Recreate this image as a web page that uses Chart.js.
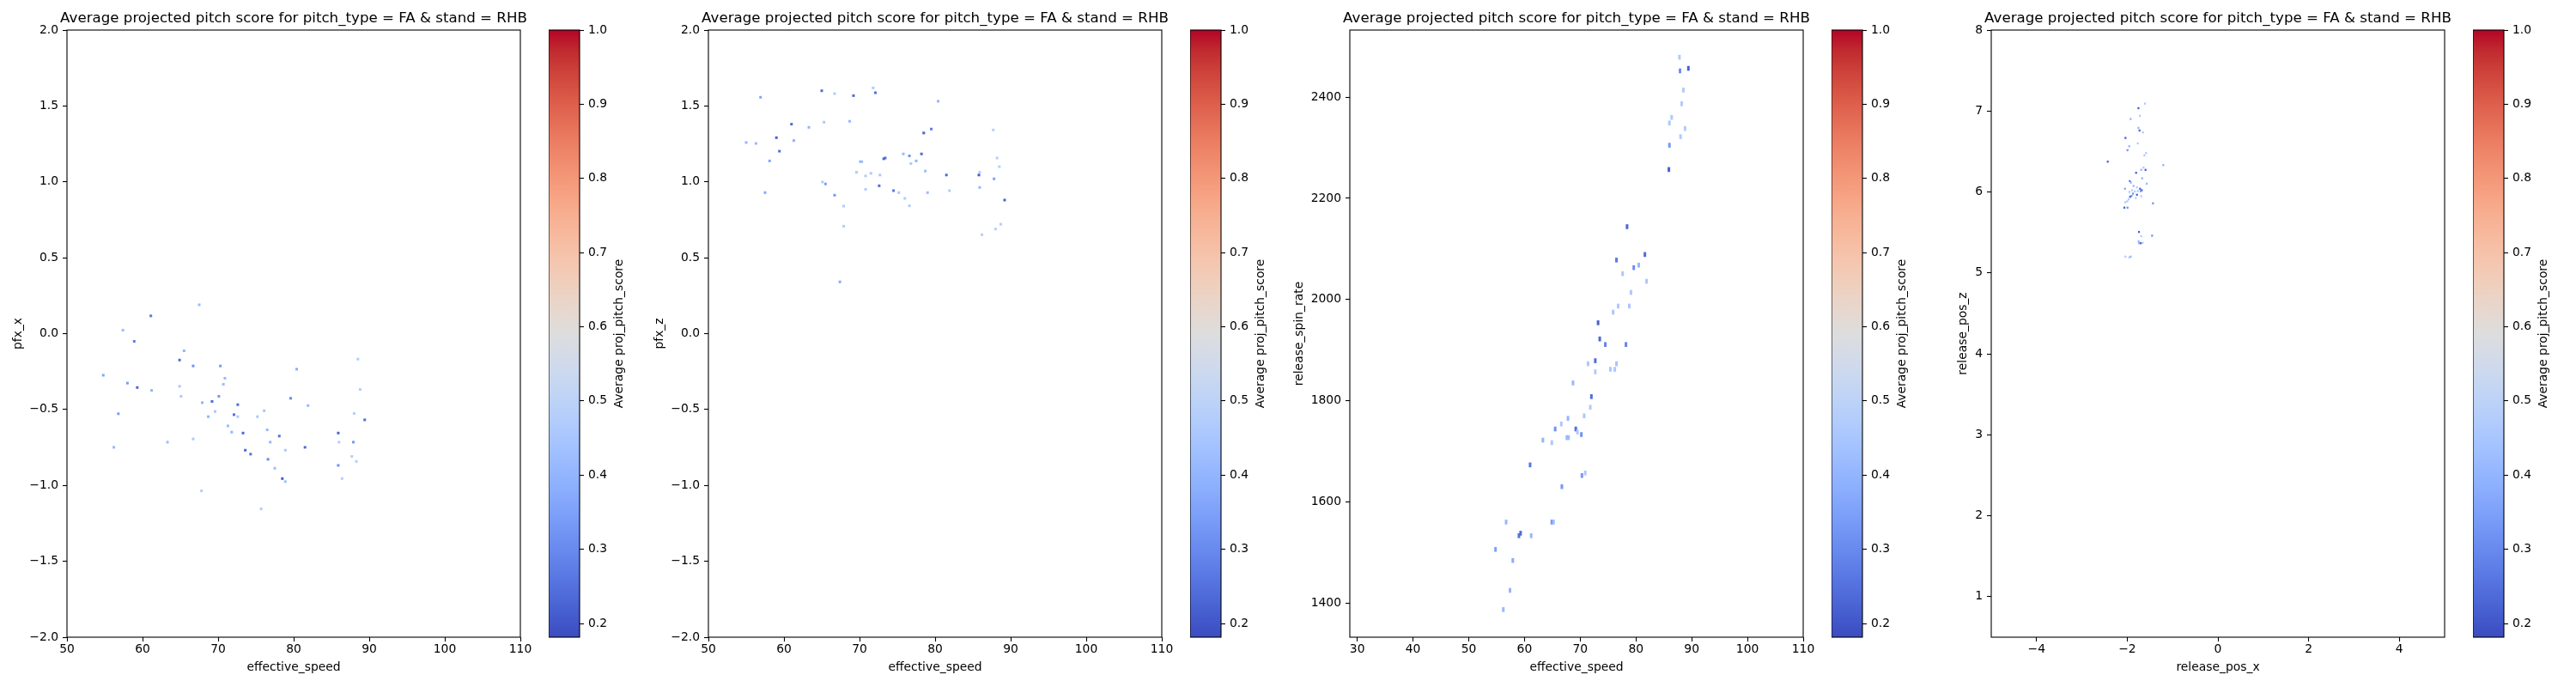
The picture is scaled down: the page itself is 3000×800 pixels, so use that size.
<!DOCTYPE html>
<html><head><meta charset="utf-8">
<script src="https://cdn.jsdelivr.net/npm/chart.js@4"></script>
<style>
html,body{margin:0;padding:0;background:#fff;width:3000px;height:800px;overflow:hidden;position:relative;}
canvas{position:absolute;top:0;}
</style></head><body>
<script>
// ---------- data ----------
const chartTitle = 'Average projected pitch score for pitch_type = FA & stand = RHB';
const colorbarLabel = 'Average proj_pitch_score';
const cbRange = [0.1815, 1.0];
const cbTicks = [0.2, 0.3, 0.4, 0.5, 0.6, 0.7, 0.8, 0.9, 1.0];

// panel 1: effective_speed vs pfx_x
const speedFx = [57.4,58.9,61.1,67.5,65.5,64.9,66.7,70.3,80.4,88.5,54.8,58.0,59.3,61.2,70.9,70.7,64.9,65.1,70.1,67.9,69.2,72.6,79.6,81.9,88.8,56.8,69.6,68.7,72.1,72.6,75.2,76.1,88.0,89.4,71.3,71.8,73.3,76.5,78.1,85.9,63.3,66.7,76.9,86.0,87.9,56.2,81.5,73.6,78.9,74.3,76.6,87.7,88.3,85.9,77.5,78.5,78.9,86.4,67.8,75.7];
const pfxX = [0.023,-0.051,0.117,0.19,-0.113,-0.174,-0.213,-0.213,-0.234,-0.168,-0.274,-0.326,-0.355,-0.374,-0.294,-0.334,-0.347,-0.413,-0.413,-0.455,-0.447,-0.468,-0.426,-0.474,-0.368,-0.528,-0.513,-0.547,-0.534,-0.547,-0.547,-0.508,-0.526,-0.568,-0.608,-0.649,-0.655,-0.634,-0.675,-0.655,-0.715,-0.694,-0.715,-0.715,-0.715,-0.749,-0.749,-0.768,-0.768,-0.794,-0.828,-0.809,-0.842,-0.868,-0.887,-0.955,-0.975,-0.955,-1.036,-1.155];
const scoreFx = [0.42,0.28,0.26,0.42,0.40,0.24,0.32,0.33,0.38,0.47,0.36,0.34,0.23,0.40,0.41,0.42,0.46,0.46,0.33,0.40,0.24,0.24,0.30,0.41,0.48,0.34,0.45,0.40,0.25,0.46,0.46,0.45,0.48,0.24,0.41,0.40,0.23,0.41,0.25,0.22,0.42,0.46,0.40,0.48,0.33,0.41,0.24,0.23,0.46,0.25,0.30,0.48,0.48,0.32,0.42,0.21,0.43,0.48,0.47,0.47];

// panel 2: effective_speed vs pfx_z
const speedFz = [56.9,65.0,66.7,69.2,71.8,72.1,80.4,61.0,63.3,65.3,68.7,87.7,59.0,61.3,55.0,56.3,59.4,58.1,79.5,78.5,75.8,76.6,78.2,77.5,76.8,73.2,73.4,70.1,70.3,69.6,70.8,71.5,72.7,78.7,81.5,85.8,85.9,88.2,88.5,87.8,85.9,89.2,65.1,65.5,57.5,66.7,70.8,72.6,74.5,75.2,76.0,76.6,79.0,81.9,67.9,67.9,88.7,88.0,86.2,67.4];
const pfxZ = [1.557,1.600,1.581,1.568,1.619,1.587,1.531,1.380,1.359,1.393,1.399,1.342,1.291,1.272,1.259,1.253,1.202,1.138,1.348,1.322,1.184,1.171,1.184,1.138,1.120,1.152,1.157,1.133,1.133,1.063,1.039,1.056,1.045,1.071,1.045,1.045,1.063,1.157,1.100,1.020,0.963,0.880,0.999,0.986,0.929,0.912,0.950,0.974,0.942,0.929,0.891,0.842,0.929,0.942,0.840,0.708,0.721,0.689,0.652,0.341];
const scoreFz = [0.36,0.24,0.47,0.24,0.47,0.25,0.40,0.24,0.40,0.46,0.41,0.48,0.22,0.39,0.40,0.41,0.24,0.36,0.27,0.22,0.41,0.32,0.23,0.40,0.46,0.23,0.24,0.41,0.42,0.46,0.47,0.46,0.46,0.42,0.24,0.21,0.48,0.48,0.48,0.35,0.40,0.22,0.46,0.35,0.37,0.33,0.47,0.24,0.26,0.46,0.47,0.47,0.42,0.47,0.47,0.47,0.48,0.48,0.48,0.37];

// panel 3: effective_speed vs release_spin_rate
const speedSpin = [87.8,87.9,89.4,88.5,88.2,86.4,86.0,88.8,88.0,86.0,85.9,78.4,76.5,81.6,79.6,80.5,77.6,81.9,79.1,76.8,78.8,75.9,73.2,73.5,74.5,78.2,72.7,71.4,76.5,72.7,75.4,76.2,68.7,72.0,71.8,70.7,67.8,66.6,65.5,69.2,69.5,70.2,63.3,64.9,67.6,67.9,61.0,70.9,70.3,66.7,56.7,64.9,65.2,59.3,59.0,61.2,54.8,57.9,57.4,56.2];
const spinRate = [2479,2452,2457,2414,2387,2360,2349,2338,2322,2305,2257,2144,2078,2089,2063,2068,2051,2036,2014,1987,1987,1975,1954,1922,1911,1911,1879,1873,1873,1857,1862,1862,1835,1808,1787,1770,1765,1754,1744,1744,1738,1733,1722,1717,1727,1727,1673,1657,1652,1630,1560,1560,1560,1538,1533,1533,1506,1484,1425,1387];
const scoreSpin = [0.47,0.31,0.22,0.47,0.47,0.47,0.46,0.47,0.47,0.33,0.22,0.23,0.27,0.24,0.31,0.41,0.46,0.46,0.46,0.46,0.46,0.46,0.22,0.23,0.29,0.29,0.24,0.46,0.45,0.47,0.46,0.46,0.41,0.24,0.47,0.46,0.40,0.46,0.32,0.24,0.46,0.32,0.40,0.46,0.41,0.42,0.26,0.46,0.33,0.33,0.41,0.32,0.42,0.24,0.25,0.41,0.35,0.38,0.40,0.41];

// panel 4: release_pos_x vs release_pos_z
const relPosX = [-1.610,-1.754,-1.723,-1.925,-1.754,-1.729,-1.653,-2.039,-1.767,-1.957,-1.995,-1.585,-1.622,-2.430,-1.206,-1.641,-1.692,-1.597,-1.805,-1.672,-1.571,-1.944,-1.919,-1.862,-1.786,-2.051,-1.717,-1.679,-1.704,-1.894,-1.831,-1.951,-1.767,-1.875,-1.786,-1.692,-1.906,-1.938,-1.811,-1.970,-2.001,-2.045,-1.433,-2.064,-1.995,-1.742,-1.692,-1.452,-1.748,-1.704,-1.660,-1.742,-2.039,-1.957,-1.925];
const relPosZ = [7.091,7.035,6.940,6.901,6.791,6.759,6.735,6.667,6.600,6.565,6.516,6.480,6.452,6.374,6.332,6.301,6.273,6.273,6.237,6.169,6.102,6.134,6.116,6.074,6.056,6.039,6.039,6.021,6.011,6.021,6.007,6.000,6.011,5.979,5.965,5.947,5.951,5.940,5.926,5.908,5.884,5.873,5.859,5.806,5.806,5.506,5.453,5.460,5.388,5.367,5.371,5.367,5.201,5.191,5.201];
const scoreRel = [0.47,0.22,0.47,0.40,0.40,0.22,0.47,0.22,0.47,0.40,0.32,0.47,0.47,0.22,0.40,0.47,0.40,0.22,0.22,0.40,0.40,0.27,0.40,0.40,0.47,0.36,0.22,0.22,0.32,0.47,0.47,0.47,0.47,0.32,0.22,0.47,0.32,0.22,0.47,0.47,0.47,0.47,0.32,0.22,0.32,0.22,0.47,0.32,0.40,0.22,0.47,0.40,0.47,0.47,0.40];

// tick values
const ticksSpeed = [50, 60, 70, 80, 90, 100, 110];
const ticksSpeedWide = [30, 40, 50, 60, 70, 80, 90, 100, 110];
const ticksPfx = [-2.0, -1.5, -1.0, -0.5, 0.0, 0.5, 1.0, 1.5, 2.0];
const ticksSpin = [1400, 1600, 1800, 2000, 2200, 2400];
const ticksPosX = [-4, -2, 0, 2, 4];
const ticksPosZ = [1, 2, 3, 4, 5, 6, 7, 8];

// ---------- colormap (coolwarm) ----------
const coolwarm = [[59,76,192],[68,90,204],[77,104,215],[87,117,225],[98,130,234],[108,142,241],[119,154,247],[130,165,251],[141,176,254],[152,185,255],[163,194,255],[174,201,253],[184,208,249],[194,213,244],[204,217,238],[213,219,230],[221,221,221],[229,216,209],[236,211,197],[241,204,184],[245,196,173],[247,187,160],[247,177,148],[247,166,135],[244,154,123],[241,141,111],[236,127,99],[229,112,88],[222,96,77],[213,80,66],[203,62,56],[192,40,47],[180,4,38]];
function cmap(t){
  t = Math.max(0, Math.min(1, t));
  const p = t * (coolwarm.length - 1), i = Math.min(Math.floor(p), coolwarm.length - 2), f = p - i;
  const a = coolwarm[i], b = coolwarm[i+1];
  return 'rgb(' + [0,1,2].map(j => Math.round(a[j] + (b[j]-a[j])*f)).join(',') + ')';
}
const scoreColor = s => cmap((s - cbRange[0]) / (cbRange[1] - cbRange[0]));

// ---------- chart setup ----------
Chart.defaults.font.family = "'DejaVu Sans', sans-serif";
Chart.defaults.font.size = 13.89;
Chart.defaults.color = '#000';

const frame = { id: 'frame', afterDraw(chart){
  const a = chart.chartArea, ctx = chart.ctx;
  ctx.save(); ctx.strokeStyle = '#000'; ctx.lineWidth = 1.1;
  ctx.strokeRect(a.left, a.top, a.right - a.left, a.bottom - a.top);
  ctx.restore();
}};

const minus = s => String(s).replace('-', '\u2212');
const fmt1 = v => minus(Number(v).toFixed(1));
const fmt0 = v => minus(String(Math.round(v)));

const AX_STEP = 747, AX_LEFT = 78, AX_W = 528, CB_GAP = 33, CB_W = 36;

function makeCanvas(left, w){
  const c = document.createElement('canvas');
  c.width = w; c.height = 800;
  c.style.left = left + 'px'; c.style.width = w + 'px'; c.style.height = '800px';
  document.body.appendChild(c);
  return c;
}

function gridOpts(){
  return { display: true, drawOnChartArea: false, drawTicks: true, tickLength: 5, tickColor: '#000', tickWidth: 1.1 };
}

function scatterPanel(k, xs, ys, ss, o){
  // canvas symmetric around the plot area so the full-width title is centred over the axes
  const c = makeCanvas(AX_STEP * k, AX_LEFT + AX_W + AX_LEFT);
  const cols = ss.map(scoreColor);
  new Chart(c, {
    type: 'scatter',
    data: { datasets: [{
      data: xs.map((x, i) => ({ x: x, y: ys[i] })),
      xAxisID: 'x', yAxisID: 'y',
      pointStyle: 'line', pointRotation: 90,
      pointRadius: o.pr, pointHoverRadius: o.pr, pointBorderWidth: o.pw,
      pointBorderColor: cols, pointBackgroundColor: cols
    }]},
    options: {
      responsive: false, animation: false, devicePixelRatio: 1, events: [],
      layout: { padding: 0 },
      plugins: {
        legend: { display: false }, tooltip: { enabled: false },
        title: { display: true, text: chartTitle, fullSize: true, color: '#000',
                 font: { size: 16.67, weight: 'normal' }, padding: { top: 12, bottom: 3 } }
      },
      scales: {
        x: { type: 'linear', min: o.xr[0], max: o.xr[1],
             afterBuildTicks: s => { s.ticks = o.xt.map(v => ({ value: v })); },
             afterFit: s => { s.height = 58; },
             ticks: { autoSkip: false, maxRotation: 0, padding: 1.5, color: '#000', callback: o.xf },
             grid: gridOpts(), border: { display: false },
             title: { display: true, text: o.xl, color: '#000', padding: { top: 0, bottom: 14.7 } } },
        y: { type: 'linear', position: 'left', min: o.yr[0], max: o.yr[1],
             afterBuildTicks: s => { s.ticks = o.yt.map(v => ({ value: v })); },
             afterFit: s => { s.width = AX_LEFT; },
             ticks: { autoSkip: false, padding: 5, color: '#000', callback: o.yf },
             grid: gridOpts(), border: { display: false },
             title: { display: true, text: o.yl, color: '#000', padding: { top: o.ytp, bottom: 0 } } },
        // empty spacer on the right, keeps the plot area where matplotlib put it
        spacer: { type: 'linear', position: 'right', display: true,
             afterFit: s => { s.width = AX_LEFT; },
             ticks: { display: false }, grid: { display: false }, border: { display: false } }
      }
    },
    plugins: [frame]
  });
  colorbarPanel(k);
}

const cbLabelPlugin = { id: 'cbLabel', afterDraw(chart){
  const a = chart.chartArea, ctx = chart.ctx;
  ctx.save();
  ctx.fillStyle = '#000';
  ctx.font = "13.89px 'DejaVu Sans', sans-serif";
  ctx.textAlign = 'center'; ctx.textBaseline = 'middle';
  ctx.translate(82, (a.top + a.bottom) / 2);
  ctx.rotate(-Math.PI / 2);
  ctx.fillText(colorbarLabel, 0, 0);
  ctx.restore();
}};

function cbGradient(chart){
  const a = chart.chartArea;
  if (!a) return scoreColor(0.5);
  const y = chart.scales.y;
  const g = chart.ctx.createLinearGradient(0, y.getPixelForValue(cbRange[0]), 0, y.getPixelForValue(cbRange[1]));
  coolwarm.forEach((c, i) => g.addColorStop(i / (coolwarm.length - 1), 'rgb(' + c.join(',') + ')'));
  return g;
}

function colorbarPanel(k){
  const left = AX_STEP * k + AX_LEFT + AX_W + CB_GAP;
  const c = makeCanvas(left, 120);
  new Chart(c, {
    type: 'bar',
    data: { labels: [''], datasets: [{ data: [cbRange], backgroundColor: ctx => cbGradient(ctx.chart),
            borderWidth: 0, categoryPercentage: 1, barPercentage: 1 }] },
    options: {
      responsive: false, animation: false, devicePixelRatio: 1, events: [],
      layout: { padding: { top: 35, bottom: 58, left: 0, right: 0 } },
      plugins: { legend: { display: false }, tooltip: { enabled: false } },
      scales: {
        x: { display: false },
        y: { position: 'right', min: cbRange[0], max: cbRange[1],
             afterBuildTicks: s => { s.ticks = cbTicks.map(v => ({ value: v })); },
             afterFit: s => { s.width = 120 - CB_W; },
             ticks: { autoSkip: false, padding: 5, color: '#000', callback: fmt1 },
             grid: gridOpts(), border: { display: false } }
      }
    },
    plugins: [frame, cbLabelPlugin]
  });
}

scatterPanel(0, speedFx, pfxX, scoreFx, { xr: [50, 110], yr: [-2, 2], xt: ticksSpeed, yt: ticksPfx, xf: fmt0, yf: fmt1,
  xl: 'effective_speed', yl: 'pfx_x', ytp: 13.2, pr: 1.5, pw: 3 });
scatterPanel(1, speedFz, pfxZ, scoreFz, { xr: [50, 110], yr: [-2, 2], xt: ticksSpeed, yt: ticksPfx, xf: fmt0, yf: fmt1,
  xl: 'effective_speed', yl: 'pfx_z', ytp: 13.2, pr: 1.5, pw: 3 });
scatterPanel(2, speedSpin, spinRate, scoreSpin, { xr: [28.66, 110], yr: [1332.4, 2532.7], xt: ticksSpeedWide, yt: ticksSpin, xf: fmt0, yf: fmt0,
  xl: 'effective_speed', yl: 'release_spin_rate', ytp: 11.3, pr: 2.8, pw: 3 });
scatterPanel(3, relPosX, relPosZ, scoreRel, { xr: [-5, 5], yr: [0.5, 8], xt: ticksPosX, yt: ticksPosZ, xf: fmt0, yf: fmt0,
  xl: 'release_pos_x', yl: 'release_pos_z', ytp: 37.4, pr: 1.2, pw: 2.2 });
</script>
</body></html>
